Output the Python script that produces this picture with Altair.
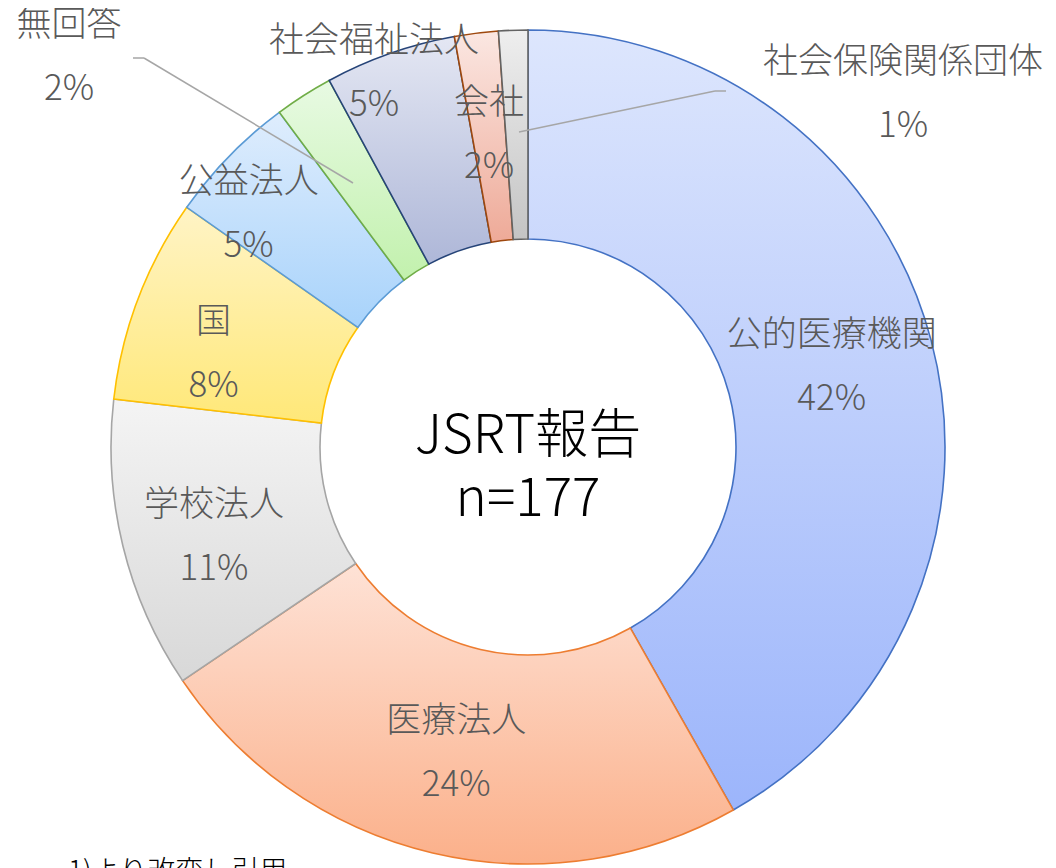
import altair as alt
import pandas as pd

# ---- data ----
categories = ["公的医療機関", "医療法人", "学校法人", "国", "公益法人",
              "無回答", "社会福祉法人", "会社", "社会保険関係団体"]
counts = [74, 42, 20, 14, 9, 4, 9, 3, 2]
center_title = "JSRT報告"
footnote = "1)より改変し引用"

# ---- styles ----
fill_top = ["#dde6fd", "#fee2d6", "#f4f4f4", "#fff4c6", "#dfedfd",
            "#e8fae3", "#e4e7f3", "#fbe7e2", "#eeeeee"]
fill_bottom = ["#9cb5fb", "#fbb08a", "#d8d8d8", "#ffe878", "#a8d3fb",
               "#c2f1ad", "#aeb7d8", "#eeaa98", "#c4c4c4"]
strokes = ["#4472c4", "#ed7d31", "#a5a5a5", "#ffc000", "#5b9bd5",
           "#70ad47", "#264478", "#9e480e", "#636363"]

FONT = "Noto Sans CJK JP"
LABEL_COLOR = "#595959"
W, H = 1040, 878
R_OUT, R_IN = 417, 208
LH = 64
total = sum(counts)

df = pd.DataFrame({"cat": categories, "count": counts, "order": list(range(len(categories)))})
one = pd.DataFrame({"k": [0]})

base = (
    alt.Chart(df)
    .transform_window(cum="sum(count)", sort=[alt.SortField("order")], frame=[None, 0])
    .transform_joinaggregate(total="sum(count)")
    .transform_calculate(
        start="datum.cum - datum.count",
        mid="datum.cum - datum.count / 2",
        label="datum.cat + '\\n' + round(datum.count / datum.total * 100) + '%'",
    )
)

theta_scale = alt.Scale(domain=[0, total])


def grad(top, bottom):
    return {
        "gradient": "linear", "x1": 0, "y1": 0, "x2": 0, "y2": 1,
        "stops": [{"offset": 0, "color": top}, {"offset": 1, "color": bottom}],
    }


fill_conditions = [
    {"test": f"datum.cat === '{c}'", "value": grad(t, b)}
    for c, t, b in zip(categories, fill_top, fill_bottom)
]

arcs = base.mark_arc(innerRadius=R_IN, outerRadius=R_OUT, strokeWidth=1.6).encode(
    theta=alt.Theta("start:Q", stack=None, scale=theta_scale),
    theta2="cum:Q",
    fill={"condition": fill_conditions, "value": "#cccccc"},
    stroke=alt.Stroke("cat:N", scale=alt.Scale(domain=categories, range=strokes), legend=None),
)

text_style = dict(font=FONT, fontSize=35, fontWeight=300, color=LABEL_COLOR,
                  lineBreak="\n", lineHeight=LH, align="center", baseline="middle")


def ring_label(names, radius, dx=0, dy=0):
    return base.transform_filter(
        alt.FieldOneOfPredicate(field="cat", oneOf=names)
    ).mark_text(dx=dx, dy=-LH / 2 + dy, **text_style).encode(
        theta=alt.Theta("mid:Q", stack=None, scale=theta_scale),
        radius=alt.value(radius),
        text="label:N",
    )


ring_labels = [
    ring_label(["公的医療機関", "医療法人", "会社"], 314),
    ring_label(["学校法人"], 314, -9, 15),
    ring_label(["国"], 314, -21, 19),
    ring_label(["公益法人"], 362, -20, 20),
    ring_label(["社会福祉法人"], 405, -20, 8),
]


def outside_label(name, x, y):
    return base.transform_filter(alt.datum.cat == name).mark_text(dy=-LH / 2, **text_style).encode(
        x=alt.value(x), y=alt.value(y), text="label:N"
    )


label_nr = outside_label("無回答", 61, 49)
label_ss = outside_label("社会保険関係団体", 895, 86)


def seg(x1, y1, x2, y2):
    return alt.Chart(one).mark_rule(color="#a6a6a6", strokeWidth=1.5).encode(
        x=alt.value(x1), y=alt.value(y1), x2=alt.value(x2), y2=alt.value(y2)
    )


leaders = [
    seg(125, 50, 136, 50), seg(136, 50, 345, 175),
    seg(718, 83, 707, 83), seg(707, 83, 511, 124),
]

center = alt.Chart(one).mark_text(
    font=FONT, fontSize=53, fontWeight=300, color="#000000", lineBreak="\n", lineHeight=63,
    align="center", baseline="middle", dy=-31.5,
).encode(
    x=alt.value(W / 2), y=alt.value(460),
    text=alt.value(f"{center_title}\nn={total}"),
)

foot = alt.Chart(one).mark_text(
    font=FONT, fontSize=28, fontWeight=300, color="#000000", align="left", baseline="top"
).encode(x=alt.value(60), y=alt.value(851), text=alt.value(footnote))

chart = alt.layer(arcs, *ring_labels, label_nr, label_ss, *leaders, center, foot).properties(
    width=W, height=H, padding=0, autosize=alt.AutoSizeParams(type="none")
).configure_view(stroke=None)

chart.save("out.html", embed_options={"renderer": "svg", "actions": False})
